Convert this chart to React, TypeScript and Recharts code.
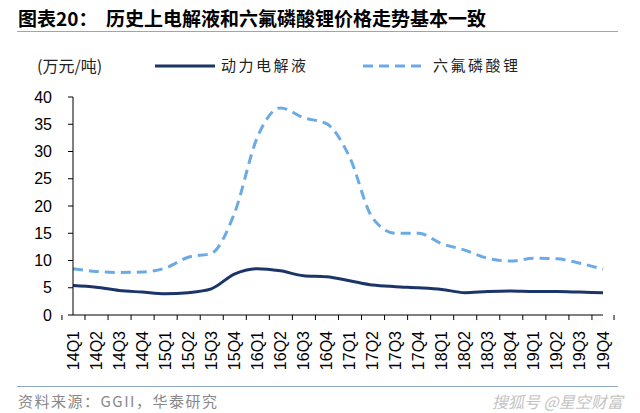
import { LineChart, Line, XAxis, YAxis } from 'recharts';

const quarters = [
  '14Q1', '14Q2', '14Q3', '14Q4', '15Q1', '15Q2', '15Q3', '15Q4',
  '16Q1', '16Q2', '16Q3', '16Q4', '17Q1', '17Q2', '17Q3', '17Q4',
  '18Q1', '18Q2', '18Q3', '18Q4', '19Q1', '19Q2', '19Q3', '19Q4',
];
const electrolyte = [
  5.4, 5.1, 4.5, 4.2, 3.9, 4.1, 4.8, 7.5,
  8.5, 8.1, 7.2, 7.0, 6.3, 5.5, 5.2, 5.0,
  4.7, 4.1, 4.3, 4.4, 4.3, 4.3, 4.2, 4.1,
];
const lipf6 = [
  8.5, 8.0, 7.8, 7.9, 8.6, 10.6, 11.3, 18.6,
  32.6, 38.0, 36.2, 35.1, 29.0, 17.8, 15.0, 15.0,
  13.1, 11.9, 10.4, 9.9, 10.4, 10.3, 9.5, 8.4,
];
const yTicks = [0, 5, 10, 15, 20, 25, 30, 35, 40];

const data = quarters.map((q, i) => ({ q, electrolyte: electrolyte[i], lipf6: lipf6[i] }));

const W = 640;
const H = 413;
const M = { top: 97, right: 37, bottom: 48, left: 33 };
const band = (W - M.left - M.right - 40) / quarters.length;

const DARK = '#1C3568';
const LIGHT = '#6BAAE5';

const XTick = (props: any) => {
  const { x, y, payload, index } = props;
  const last = index === quarters.length - 1;
  return (
    <g>
      <line x1={x - band / 2} y1={y - 8} x2={x - band / 2} y2={y - 3} stroke="#000" />
      {last && <line x1={x + band / 2} y1={y - 8} x2={x + band / 2} y2={y - 3} stroke="#000" />}
      <text
        x={x}
        y={y + 8}
        transform={`rotate(-90 ${x} ${y + 8})`}
        textAnchor="end"
        dominantBaseline="central"
        fontSize={16}
        fill="#000"
        fontFamily="Liberation Sans, Arial"
      >
        {payload.value}
      </text>
    </g>
  );
};

export default function App() {
  return (
    <div style={{ position: 'absolute', left: 0, top: 0, width: W, height: H, background: '#fff', fontFamily: 'Noto Sans CJK SC' }}>
      <div style={{ position: 'absolute', left: 18, top: 4, fontSize: 19, fontWeight: 700, color: '#000', whiteSpace: 'nowrap' }}>
        图表20：&nbsp;&nbsp;历史上电解液和六氟磷酸锂价格走势基本一致
      </div>
      <div style={{ position: 'absolute', left: 17, top: 31, width: 601, height: 1, background: '#8FA8C8' }} />
      <div style={{ position: 'absolute', left: 37, top: 53, fontSize: 16, color: '#222', whiteSpace: 'nowrap' }}>(万元/吨)</div>
      <svg style={{ position: 'absolute', left: 0, top: 55 }} width={W} height={22}>
        <line x1={155} y1={11} x2={215} y2={11} stroke={DARK} strokeWidth={3} />
        <text x={221} y={16} fontSize={15} fill="#222" fontFamily="Noto Sans CJK SC" letterSpacing={2.5}>动力电解液</text>
        <line x1={363} y1={11} x2={422} y2={11} stroke={LIGHT} strokeWidth={3} strokeDasharray="10 6" />
        <text x={433} y={16} fontSize={15} fill="#222" fontFamily="Noto Sans CJK SC" letterSpacing={2.5}>六氟磷酸锂</text>
      </svg>
      <LineChart width={W} height={H} data={data} margin={M}>
        <XAxis
          dataKey="q"
          interval={0}
          height={50}
          tickLine={false}
          tick={<XTick />}
          axisLine={{ stroke: '#000' }}
        />
        <YAxis
          domain={[0, 40]}
          ticks={yTicks}
          width={40}
          tickSize={5}
          tickMargin={16}
          axisLine={{ stroke: '#000' }}
          tickLine={{ stroke: '#000' }}
          tick={{ fill: '#000', fontSize: 16, fontFamily: 'Liberation Sans, Arial' }}
        />
        <Line dataKey="electrolyte" name="动力电解液" type="monotone" stroke={DARK} strokeWidth={3} dot={false} isAnimationActive={false} />
        <Line dataKey="lipf6" name="六氟磷酸锂" type="monotone" stroke={LIGHT} strokeWidth={3} strokeDasharray="10 6" dot={false} isAnimationActive={false} />
      </LineChart>
      <div style={{ position: 'absolute', left: 17, top: 386, width: 601, height: 1, background: '#8FA8C8' }} />
      <div style={{ position: 'absolute', left: 18, top: 390, fontSize: 15, color: '#888', whiteSpace: 'nowrap', letterSpacing: 1.5 }}>资料来源：GGII，华泰研究</div>
      <div style={{ position: 'absolute', left: 492, top: 389, fontSize: 16, color: '#c4c4c4', whiteSpace: 'nowrap', fontStyle: 'italic' }}>搜狐号 @星空财富</div>
    </div>
  );
}
